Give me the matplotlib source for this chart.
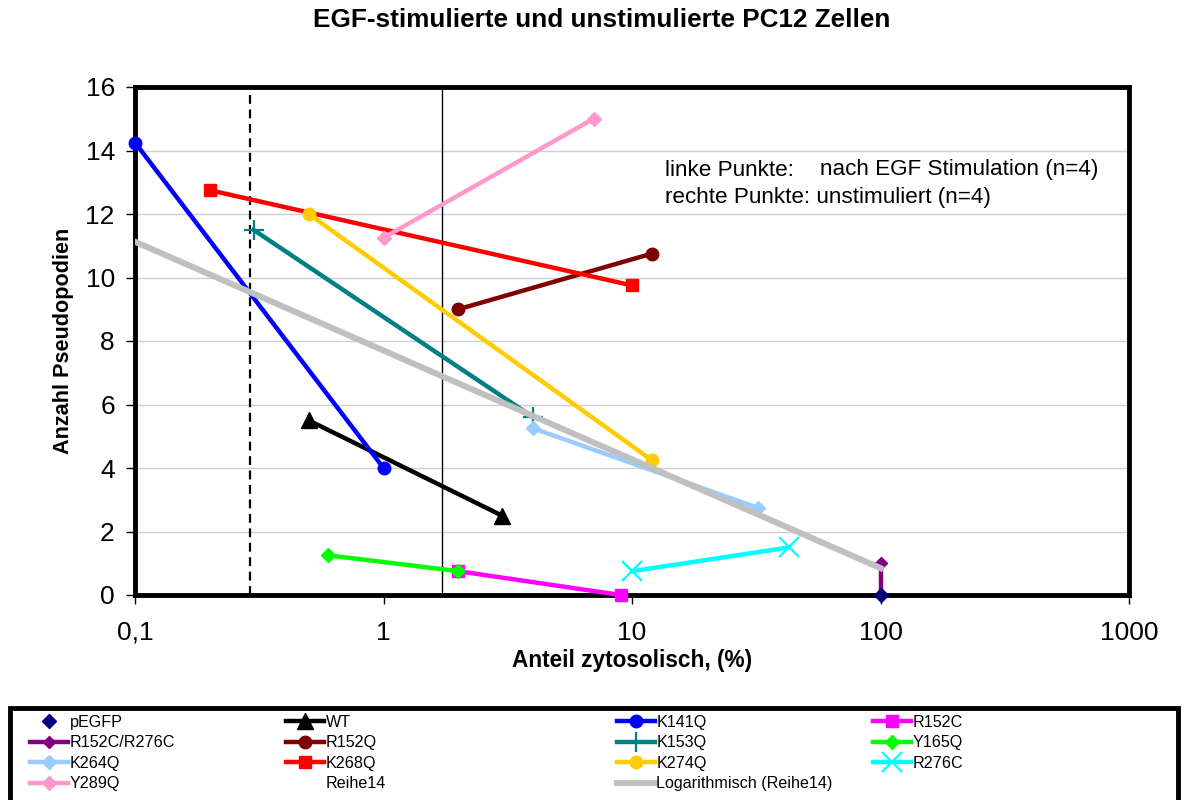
import numpy as np
import matplotlib
matplotlib.use("Agg")
import matplotlib.pyplot as plt
from matplotlib.patches import Rectangle
from matplotlib.ticker import FixedLocator, FuncFormatter, NullLocator

plt.rcParams["font.family"] = ["Liberation Sans", "DejaVu Sans"]

# Datenreihen: (links = nach EGF Stimulation, rechts = unstimuliert)
wt_x = [0.5, 3.0]
wt_y = [5.5, 2.5]
k141q_x = [0.1, 1.0]
k141q_y = [14.25, 4.0]
r152c_x = [2.0, 9.0]
r152c_y = [0.75, 0.0]
r152c_r276c_x = [100, 100]
r152c_r276c_y = [1.0, 0.0]
r152q_x = [2.0, 12.0]
r152q_y = [9.0, 10.75]
k153q_x = [0.3, 4.0]
k153q_y = [11.5, 5.6]
y165q_x = [0.6, 2.0]
y165q_y = [1.25, 0.75]
k264q_x = [4.0, 32.0]
k264q_y = [5.25, 2.75]
k268q_x = [0.2, 10.0]
k268q_y = [12.75, 9.75]
k274q_x = [0.5, 12.0]
k274q_y = [12.0, 4.25]
r276c_x = [10.0, 43.0]
r276c_y = [0.75, 1.5]
y289q_x = [1.0, 7.0]
y289q_y = [11.25, 15.0]
pegfp_x = [100]
pegfp_y = [0.0]

# logarithmische Trendlinie (Reihe14): y = a*ln(x) + b
trend_a = -1.488
trend_b = 7.70
trend_range = [0.1, 100]

# senkrechte Linien
dashed_x = 0.29
solid_x = 1.72

x_ticks = [0.1, 1, 10, 100, 1000]
y_ticks = [0, 2, 4, 6, 8, 10, 12, 14, 16]

fig = plt.figure(figsize=(11.88, 8), dpi=100)
ax = fig.add_axes([135 / 1188, 1 - 595 / 800, (1129 - 135) / 1188, (595 - 87) / 800])

ax.axvline(dashed_x, color="black", lw=1.6, ls=(0, (4, 2.5)), zorder=2)
ax.axvline(solid_x, color="black", lw=1.0, zorder=2)

lw = 3.2
h = {}
h["pEGFP"], = ax.plot(pegfp_x, pegfp_y, ls="none", marker="D", ms=7, color="#000080", zorder=6, clip_on=False)
h["WT"], = ax.plot(wt_x, wt_y, color="black", lw=lw, marker="^", ms=11, zorder=4)
h["K141Q"], = ax.plot(k141q_x, k141q_y, color="#0000FF", lw=lw, marker="o", ms=9, zorder=4, clip_on=False)
h["R152C"], = ax.plot(r152c_x, r152c_y, color="#FF00FF", lw=lw, marker="s", ms=9, zorder=4, clip_on=False)
h["R152C/R276C"], = ax.plot(r152c_r276c_x, r152c_r276c_y, color="#800080", lw=lw, marker="D", ms=6, zorder=5)
h["R152Q"], = ax.plot(r152q_x, r152q_y, color="#800000", lw=lw, marker="o", ms=9, zorder=4)
h["K153Q"], = ax.plot(k153q_x, k153q_y, color="#008080", lw=lw, marker="+", ms=14, mew=1.6, zorder=4)
h["Y165Q"], = ax.plot(y165q_x, y165q_y, color="#00FF00", lw=lw, marker="D", ms=7, zorder=5)
h["K264Q"], = ax.plot(k264q_x, k264q_y, color="#99CCFF", lw=lw, marker="D", ms=7, zorder=4)
h["K268Q"], = ax.plot(k268q_x, k268q_y, color="#FF0000", lw=lw, marker="s", ms=9, zorder=4)
h["K274Q"], = ax.plot(k274q_x, k274q_y, color="#FFCC00", lw=lw, marker="o", ms=9, zorder=4)
h["R276C"], = ax.plot(r276c_x, r276c_y, color="#00FFFF", lw=lw, marker="x", ms=14, mew=1.6, zorder=4)
h["Y289Q"], = ax.plot(y289q_x, y289q_y, color="#FF99CC", lw=lw, marker="D", ms=7, zorder=4)
h["Reihe14"], = ax.plot([], [], ls="none", marker="none")

tx = np.geomspace(trend_range[0], trend_range[1], 50)
h["Logarithmisch (Reihe14)"], = ax.plot(tx, trend_a * np.log(tx) + trend_b,
                                        color="#C0C0C0", lw=4.4, zorder=5)

ax.set_xscale("log")
ax.set_xlim(0.1, 1000)
ax.set_ylim(0, 16)
ax.xaxis.set_major_locator(FixedLocator(x_ticks))
ax.xaxis.set_minor_locator(NullLocator())
ax.xaxis.set_major_formatter(FuncFormatter(lambda v, p: ("%g" % v).replace(".", ",")))
ax.set_yticks(y_ticks)
ax.yaxis.grid(True, color="#D0D0D0", lw=1.0)
ax.set_axisbelow(True)
for s in ax.spines.values():
    s.set_linewidth(3.5)
ax.tick_params(axis="both", labelsize=19, length=6.5, width=1, direction="out")
ax.tick_params(axis="x", pad=12)
ax.tick_params(axis="y", pad=8)

ax.set_xlabel("Anteil zytosolisch, (%)", fontsize=16.3, fontweight="bold")
ax.xaxis.set_label_coords(0.5, -(660 - 595) / 508, transform=ax.transAxes)
ax.xaxis.label.set_va("center")
ax.set_ylabel("Anzahl Pseudopodien", fontsize=15.6, fontweight="bold")
ax.yaxis.set_label_coords(-(135 - 63) / 994, 0.5)
ax.yaxis.label.set_va("center")
fig.text(602 / 1188, 1 - 20 / 800, "EGF-stimulierte und unstimulierte PC12 Zellen",
         ha="center", va="center", fontsize=18.8, fontweight="bold")

# Anmerkung
fig.text(665 / 1188, 1 - 170 / 800, "linke Punkte:", fontsize=16.2, va="center")
fig.text(820 / 1188, 1 - 170 / 800, "nach EGF Stimulation (n=4)", fontsize=16.2, va="center")
fig.text(665 / 1188, 1 - 197 / 800, "rechte Punkte: unstimuliert (n=4)", fontsize=16.2, va="center")

# Legende: Rahmen und vier Spalten
fig.patches.append(Rectangle((10 / 1188, -0.02), 1168 / 1188, 0.02 + 1 - 708 / 800,
                             transform=fig.transFigure, fill=False, lw=3.5, ec="black"))
columns = [["pEGFP", "R152C/R276C", "K264Q", "Y289Q"],
           ["WT", "R152Q", "K268Q", "Reihe14"],
           ["K141Q", "K153Q", "K274Q", "Logarithmisch (Reihe14)"],
           ["R152C", "Y165Q", "R276C"]]
col_x = [30, 286, 617, 873]
for cx, names in zip(col_x, columns):
    fig.legend([h[n] for n in names], names, loc="upper left",
               bbox_to_anchor=(cx / 1188, 1 - 715 / 800), frameon=False,
               fontsize=11.6, handlelength=2.35, handletextpad=0.1,
               labelspacing=0.34, borderpad=0, borderaxespad=0, markerscale=1.0)

fig.savefig("out.png", dpi=100)
